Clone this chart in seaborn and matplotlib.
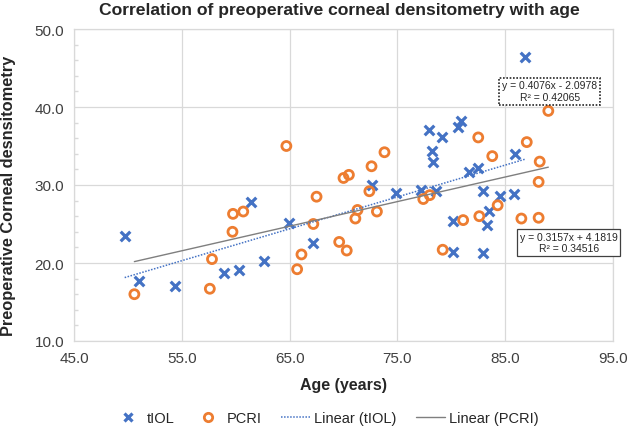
import matplotlib
matplotlib.use("Agg")
import numpy as np
import pandas as pd
import seaborn as sns
import matplotlib.pyplot as plt
from matplotlib.lines import Line2D
from matplotlib.ticker import FixedLocator, MultipleLocator, FormatStrFormatter

# ---- data ----
tiol_age = [49.7, 51.0, 54.4, 58.9, 60.3, 61.4, 62.6, 64.9, 67.2, 72.6, 74.9,
            77.2, 77.9, 78.2, 78.3, 78.6, 79.1, 80.2, 80.2, 80.6, 80.9, 81.6,
            82.5, 82.9, 82.9, 83.3, 83.5, 84.5, 85.8, 85.9, 86.8]
tiol_dens = [23.4, 17.7, 17.0, 18.7, 19.1, 27.8, 20.2, 25.1, 22.6, 30.0, 29.0,
             29.3, 37.0, 34.3, 33.0, 29.2, 36.1, 25.4, 21.4, 37.5, 38.2, 31.7,
             32.2, 29.2, 21.3, 24.9, 26.7, 28.6, 28.9, 34.0, 46.4]
pcri_age = [50.6, 57.6, 57.8, 59.7, 59.75, 60.7, 64.7, 65.7, 66.1, 67.2, 67.5,
            69.6, 70.0, 70.3, 70.5, 71.1, 71.3, 72.4, 72.6, 73.1, 73.8, 77.4,
            78.0, 79.2, 81.1, 82.5, 82.6, 83.8, 84.3, 86.5, 87.0, 88.1, 88.1,
            88.2, 89.0]
pcri_dens = [16.0, 16.7, 20.5, 24.0, 26.3, 26.6, 35.0, 19.2, 21.1, 25.0, 28.5,
             22.7, 30.9, 21.6, 31.3, 25.7, 26.8, 29.2, 32.4, 26.6, 34.2, 28.2,
             28.7, 21.7, 25.5, 36.1, 26.0, 33.7, 27.4, 25.7, 35.5, 25.8, 30.4,
             33.0, 39.5]

x_ticks = [45, 55, 65, 75, 85, 95]
y_ticks = [10, 20, 30, 40, 50]

title = "Correlation of preoperative corneal densitometry with age"
xlabel = "Age (years)"
ylabel = "Preoperative Corneal desnsitometry"
series_names = ["tIOL", "PCRI", "Linear (tIOL)", "Linear (PCRI)"]
eq_tiol = "y = 0.4076x - 2.0978\nR² = 0.42065"
eq_pcri = "y = 0.3157x + 4.1819\nR² = 0.34516"

blue = "#4472C4"
orange = "#ED7D31"
gray = "#7F7F7F"

sns.set_theme(style="white")
plt.rcParams["font.family"] = ["Liberation Sans", "DejaVu Sans"]

W, H = 630, 427
fig = plt.figure(figsize=(W / 100, H / 100), dpi=100)
ax = fig.add_axes([74 / W, 1 - 342 / H, (613 - 74) / W, (342 - 30) / H])

df_t = pd.DataFrame({"age": tiol_age, "dens": tiol_dens})
df_p = pd.DataFrame({"age": pcri_age, "dens": pcri_dens})

sns.scatterplot(data=df_t, x="age", y="dens", marker="x", color=blue, s=48,
                linewidth=2.3, ax=ax, zorder=3, legend=False)
sns.scatterplot(data=df_p, x="age", y="dens", marker="o", facecolor="none",
                edgecolor=orange, s=42, linewidth=2.0, ax=ax, zorder=3,
                legend=False)
sns.regplot(data=df_t, x="age", y="dens", scatter=False, ci=None, ax=ax,
            line_kws=dict(color=blue, lw=1.1, ls=(0, (1, 1)), zorder=4))
sns.regplot(data=df_p, x="age", y="dens", scatter=False, ci=None, ax=ax,
            line_kws=dict(color=gray, lw=1.0, zorder=4))

ax.set_xlim(45, 95)
ax.set_ylim(10, 50)
ax.xaxis.set_major_locator(FixedLocator(x_ticks))
ax.yaxis.set_major_locator(FixedLocator(y_ticks))
ax.yaxis.set_minor_locator(MultipleLocator(2))
ax.xaxis.set_major_formatter(FormatStrFormatter("%.1f"))
ax.yaxis.set_major_formatter(FormatStrFormatter("%.1f"))
ax.grid(True, which="major", color="#D9D9D9", lw=0.9)
ax.set_axisbelow(True)
for s in ax.spines.values():
    s.set_color("#D9D9D9")
    s.set_linewidth(0.9)
ax.tick_params(axis="both", which="major", length=0, labelsize=11,
               labelcolor="#404040", pad=7)
ax.tick_params(axis="y", which="minor", direction="in", length=3,
               color="#D9D9D9", left=True)
ax.set_xlabel(xlabel, fontsize=11.5, fontweight="bold", labelpad=9)
ax.set_ylabel("")

fig.text(9 / W, 1 - 196 / H, ylabel, rotation=90, ha="center", va="center",
         fontsize=11.8, fontweight="bold")

fig.text(339 / W, 1 - 11 / H, title, ha="center", va="center",
         fontsize=12.6, fontweight="bold")

fig.text(549.6 / W, 1 - 92.2 / H, eq_tiol, ha="center", va="center",
         fontsize=7.5, linespacing=1.2, color="#262626",
         bbox=dict(boxstyle="square,pad=0.25", fc="white", ec="#262626",
                   ls=(0, (1, 1)), lw=1.2))
fig.text(568.8 / W, 1 - 243.7 / H, eq_pcri, ha="center", va="center",
         fontsize=7.5, linespacing=1.2, color="#262626",
         bbox=dict(boxstyle="square,pad=0.25", fc="white", ec="#404040",
                   lw=0.9))

handles = [
    Line2D([], [], marker="x", color=blue, ls="none", markersize=6, mew=2.3),
    Line2D([], [], marker="o", mfc="none", mec=orange, ls="none",
           markersize=6, mew=2.0),
    Line2D([], [], color=blue, lw=1.1, ls=(0, (1, 1))),
    Line2D([], [], color=gray, lw=1.0),
]
fig.legend(handles, series_names, loc="center",
           bbox_to_anchor=(326 / W, 1 - 419 / H), ncol=4, frameon=False,
           fontsize=10.5, handlelength=2, handletextpad=0.3,
           columnspacing=1.3, labelcolor="#262626")

fig.savefig("out.png", dpi=100)
